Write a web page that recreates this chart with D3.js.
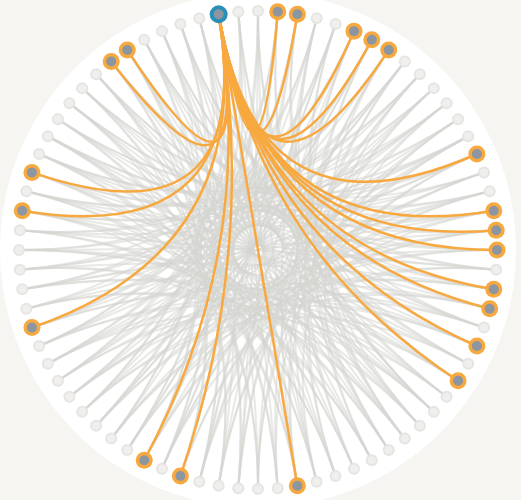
<!DOCTYPE html>
<html>
<head>
<meta charset="utf-8">
<script src="https://cdn.jsdelivr.net/npm/d3@7"></script>
<style>
  body { margin: 0; background: #f6f5f1; overflow: hidden; }
</style>
</head>
<body>
<svg></svg>
<script>
var width = 521;
var height = 500;

// node indices around the circle (clockwise from top)
var nodeCount = 76;
var nodeIds = d3.range(nodeCount);
var selectedNode = 74;
var neighbours = [1, 2, 5, 6, 7, 14, 17, 18, 19, 21, 22, 24, 26, 36, 42, 44, 53, 59, 61, 68, 69];

// background links: "source:target,target,..."
var linkText = "0:28,35,44;1:30,41,50;2:26,39,47;3:31,36,52;4:29,43,49;5:33,40,55;6:34,45,51;7:30,38,57;8:36,47,53;9:32,41,58;10:39,44,60;11:35,50,56;12:37,43,62;13:40,48,59;14:38,52,64;15:42,46,61;16:44,51,66;17:41,55,63;18:45,49,68;19:47,54,65;20:43,58,70;21:50,56,67;22:46,53,72;23:49,60,69;24:52,57,74;25:48,62,71;26:55,59,0;27:51,64,73;28:57,61,2;29:54,66,75;30:58,63,4;31:60,68,1;32:56,65,6;33:62,70,3;34:59,67,8;35:64,72,5;36:61,69,10;37:66,74,7;38:63,71,12;39:68,0,9;40:65,73,14;41:70,2,11;42:67,75,16;43:72,4,13;44:69,1,18;45:74,6,15;46:71,3,20;47:0,8,17;48:73,5,22;49:2,10,19;50:75,7,24;51:4,12,21;52:1,9,26;53:6,14,23;54:3,11,28;55:8,16,25;56:5,13,30;57:10,18,27;58:7,15,32;59:12,20,29;60:9,17,34;61:14,22,31;62:11,19,36;63:16,24,33;64:13,21,38;65:18,26,35;66:15,23,40;67:20,28,37;68:17,25,42;69:22,30,39;70:19,27,44;71:24,32,41;72:21,29,46;73:26,34,43;74:23,31,48;75:28,36,45";

var links = [];
linkText.split(";").forEach(function(row){
    var parts = row.split(":");
    parts[1].split(",").forEach(function(t){
        links.push({source: +parts[0], target: +t});
    });
});

var cx = 258, cy = 250, radius = 239;

var angle = d3.scaleLinear()
                .domain([0, nodeCount])
                .range([0, 2 * Math.PI]);

function pos(i){
    var a = angle(i);
    return [cx + radius * Math.sin(a), cy - radius * Math.cos(a)];
}

function curve(s, t){
    var p = d3.path();
    var a = pos(s), b = pos(t);
    p.moveTo(a[0], a[1]);
    p.quadraticCurveTo(cx, cy, b[0], b[1]);
    return p.toString();
}

var svg = d3.select("svg")
    .attr("width", width)
    .attr("height", height);

svg.append("circle")
    .attr("cx", cx)
    .attr("cy", cy)
    .attr("r", 258)
    .attr("fill", "#ffffff");

svg.append("g")
  .selectAll("path")
  .data(links)
  .enter()
  .append("path")
    .attr("d", d => curve(d.source, d.target))
    .attr("fill", "none")
    .attr("stroke", "#d6d5d1")
    .attr("stroke-opacity", 0.55)
    .attr("stroke-width", 2);

svg.append("g")
  .selectAll("path")
  .data(neighbours)
  .enter()
  .append("path")
    .attr("d", d => curve(selectedNode, d))
    .attr("fill", "none")
    .attr("stroke", "#f7a940")
    .attr("stroke-width", 2.5);

var node = svg.append("g")
  .selectAll("g")
  .data(nodeIds)
  .enter()
  .append("g")
    .attr("transform", d => "translate(" + pos(d) + ")");

node.append("circle")
    .attr("r", d => d === selectedNode ? 9 : neighbours.indexOf(d) >= 0 ? 8.5 : 6)
    .attr("fill", d => d === selectedNode ? "#2a8fb8" : neighbours.indexOf(d) >= 0 ? "#f7a940" : "#e6e5e2");

node.append("circle")
    .attr("r", d => d === selectedNode || neighbours.indexOf(d) >= 0 ? 5 : 4)
    .attr("fill", d => d === selectedNode || neighbours.indexOf(d) >= 0 ? "#8c96a0" : "#f0efed");
</script>
</body>
</html>
